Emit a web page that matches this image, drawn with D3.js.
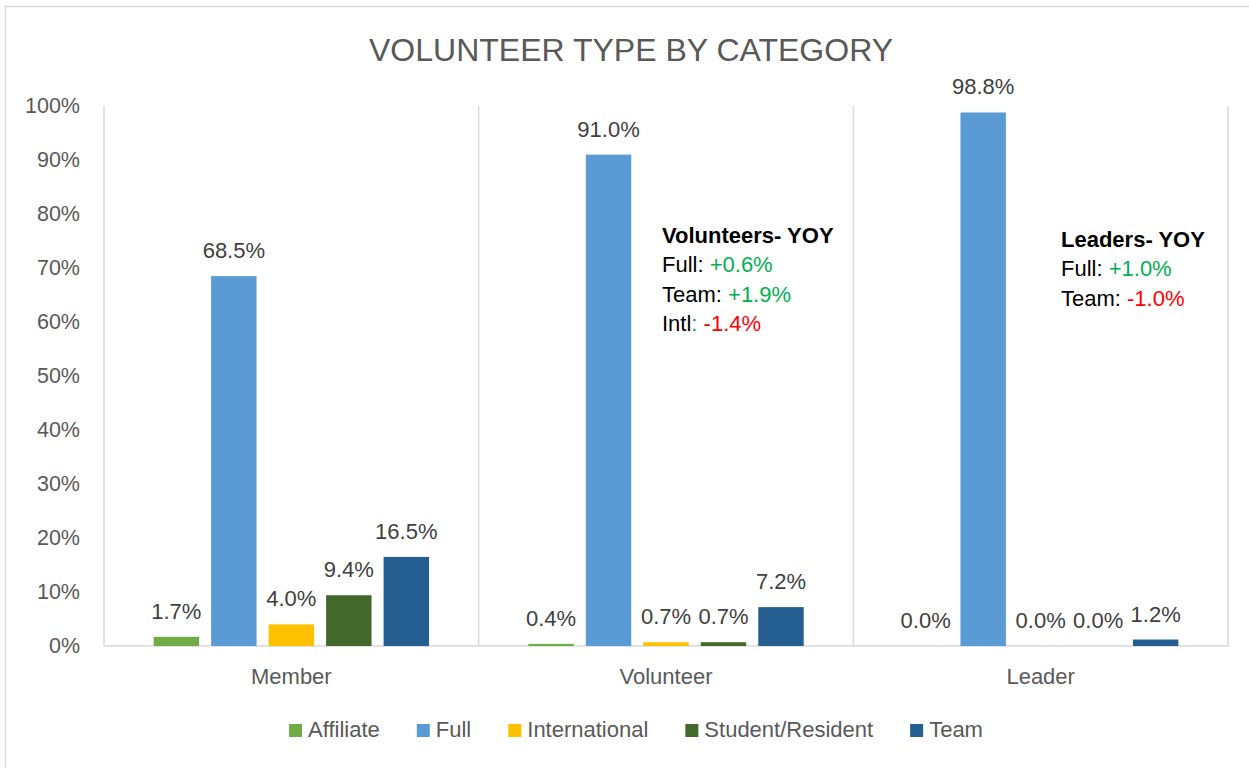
<!DOCTYPE html>
<html><head><meta charset="utf-8">
<script src="https://cdn.jsdelivr.net/npm/d3@7"></script>
<style>
body{margin:0;background:#fff}
svg{display:block}
text{font-family:"Liberation Sans",Arial,sans-serif}
</style>
</head><body>
<svg id="c" width="1249" height="768"></svg>
<script>
const title = "VOLUNTEER TYPE BY CATEGORY";
const categories = ["Member", "Volunteer", "Leader"];
const seriesNames = ["Affiliate", "Full", "International", "Student/Resident", "Team"];
const affiliate = [1.7, 0.4, 0.0];
const full = [68.5, 91.0, 98.8];
const international = [4.0, 0.7, 0.0];
const studentResident = [9.4, 0.7, 0.0];
const team = [16.5, 7.2, 1.2];
const yTicks = [0, 10, 20, 30, 40, 50, 60, 70, 80, 90, 100];
const seriesColors = ["#70AD47", "#5B9BD5", "#FFC000", "#43682B", "#255E91"];
const volunteersYoy = [
  [["Volunteers- YOY", "#000", "bold"]],
  [["Full: ", "#000"], ["+0.6%", "#00B050"]],
  [["Team: ", "#000"], ["+1.9%", "#00B050"]],
  [["Intl", "#000"], [": ", "#00B050"], ["-1.4%", "#FF0000"]]
];
const leadersYoy = [
  [["Leaders- YOY", "#000", "bold"]],
  [["Full: ", "#000"], ["+1.0%", "#00B050"]],
  [["Team: ", "#000"], ["-1.0%", "#FF0000"]]
];

const seriesValues = [affiliate, full, international, studentResident, team];
const rows = [];
categories.forEach((c, ci) => seriesNames.forEach((s, si) =>
  rows.push({cat: c, series: s, value: seriesValues[si][ci], color: seriesColors[si]})));

const svg = d3.select("#c");
const plot = {left: 104, right: 1228, top: 106, bottom: 646};
const grid = "#D9D9D9", textGray = "#595959", labelGray = "#404040";

svg.append("rect").attr("x", 5.5).attr("y", 6.5).attr("width", 1260).attr("height", 780)
  .attr("fill", "#fff").attr("stroke", grid).attr("stroke-width", 1.5);

svg.append("text").attr("x", 631).attr("y", 61).attr("text-anchor", "middle")
  .attr("font-size", 32).attr("fill", textGray).text(title);

const y = d3.scaleLinear().domain([0, 100]).range([plot.bottom, plot.top]);
const x0 = d3.scaleBand().domain(categories).range([plot.left, plot.right])
  .paddingInner(0.265).paddingOuter(0.1325);
const x1 = d3.scaleBand().domain(seriesNames).range([0, x0.bandwidth()]).paddingInner(0.21);

// vertical category separators
const sepX = [plot.left].concat(categories.map(c => x0(c) + x0.bandwidth() + x0.step() * x0.paddingInner() / 2));
svg.append("g").selectAll("line").data(sepX).join("line")
  .attr("x1", d => d).attr("x2", d => d).attr("y1", y(100)).attr("y2", plot.bottom)
  .attr("stroke", grid).attr("stroke-width", 1.5);
svg.append("line").attr("x1", plot.left).attr("x2", plot.right).attr("y1", plot.bottom).attr("y2", plot.bottom)
  .attr("stroke", grid).attr("stroke-width", 1.5);

// y axis labels
const yAxis = d3.axisLeft(y).tickValues(yTicks).tickFormat(d => d + "%").tickSize(0).tickPadding(24);
const ya = svg.append("g").attr("transform", `translate(${plot.left},0)`).call(yAxis);
ya.select(".domain").remove();
ya.selectAll("text").attr("font-size", 21.5).attr("fill", textGray)
  .attr("font-family", '"Liberation Sans",Arial,sans-serif');

// x axis labels
const xAxis = d3.axisBottom(x0).tickSize(0).tickPadding(22);
const xa = svg.append("g").attr("transform", `translate(0,${plot.bottom})`).call(xAxis);
xa.select(".domain").remove();
xa.selectAll("text").attr("font-size", 22).attr("fill", textGray)
  .attr("font-family", '"Liberation Sans",Arial,sans-serif');

// bars
svg.append("g").selectAll("rect").data(rows).join("rect")
  .attr("x", d => x0(d.cat) + x1(d.series)).attr("width", x1.bandwidth())
  .attr("y", d => y(d.value)).attr("height", d => y(0) - y(d.value))
  .attr("fill", d => d.color);

// data labels
svg.append("g").selectAll("text").data(rows).join("text")
  .attr("x", d => x0(d.cat) + x1(d.series) + x1.bandwidth() / 2)
  .attr("y", d => y(d.value) - 18)
  .attr("text-anchor", "middle").attr("font-size", 22).attr("fill", labelGray)
  .text(d => d3.format(".1f")(d.value) + "%");

// annotations
function annotate(lines, x, y0, lh) {
  const g = svg.append("g");
  lines.forEach((segs, i) => {
    const t = g.append("text").attr("x", x).attr("y", y0 + i * lh).attr("font-size", 22);
    segs.forEach(s => t.append("tspan").attr("fill", s[1]).attr("font-weight", s[2] || "normal").text(s[0]));
  });
}
annotate(volunteersYoy, 662, 243, 29.3);
annotate(leadersYoy, 1061, 247, 29.3);

// legend
const lg = svg.append("g");
const items = lg.selectAll("g").data(seriesNames).join("g");
items.append("rect").attr("width", 13).attr("height", 13).attr("y", -13)
  .attr("fill", (d, i) => seriesColors[i]);
items.append("text").attr("x", 19).attr("y", 0).attr("font-size", 22)
  .attr("fill", textGray).text(d => d);
const gap = 37;
let cx = 0;
items.each(function() {
  const w = 19 + d3.select(this).select("text").node().getComputedTextLength();
  d3.select(this).attr("transform", `translate(${cx},0)`);
  cx += w + gap;
});
const totalW = cx - gap;
lg.attr("transform", `translate(${636 - totalW / 2},737)`);
</script>
</body></html>
